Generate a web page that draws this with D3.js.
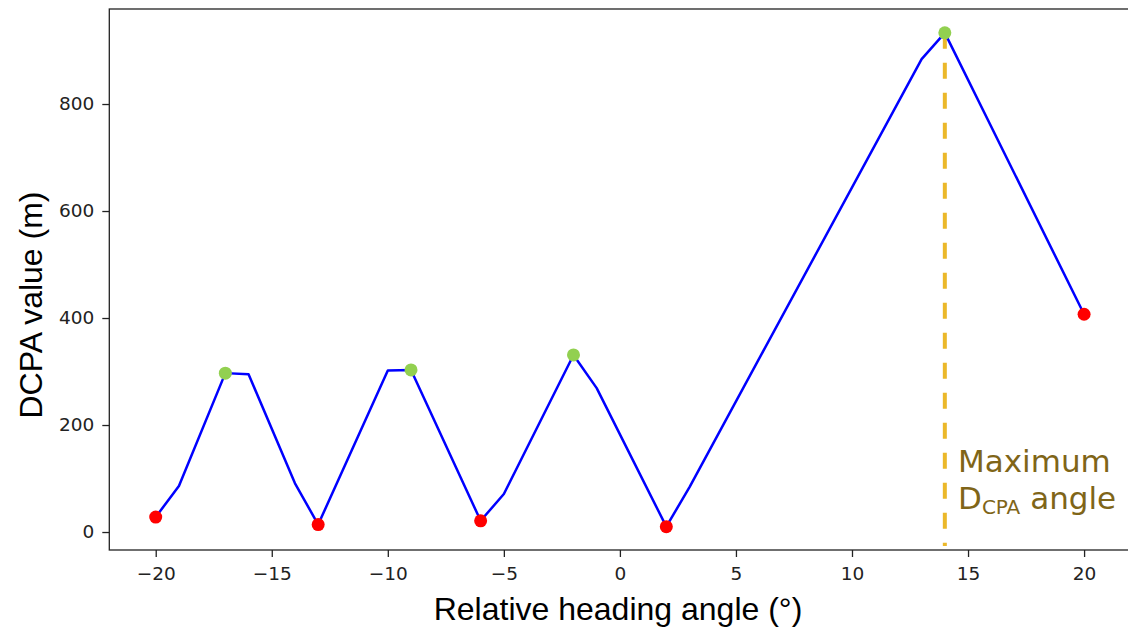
<!DOCTYPE html>
<html>
<head>
<meta charset="utf-8">
<script src="https://cdn.jsdelivr.net/npm/d3@7"></script>
<style>
  body { margin: 0; background: #fff; }
  svg text { font-family: "DejaVu Sans", sans-serif; }
  .tick text { font-size: 18.5px; fill: #222; }
  .tick line, .domain { stroke: #222; stroke-width: 1.3; }
</style>
</head>
<body>
<svg id="chart" width="1128" height="634"></svg>
<script>
// heading angle (deg) and DCPA (m)
var angles = [-20, -19, -17, -16, -14, -13, -10, -9, -6, -5, -2, -1, 2, 3, 13, 14, 20];
var dcpa   = [28, 86, 297, 295, 91, 14, 302, 303, 21, 71, 331, 269, 10, 84, 884, 933, 407];
// local minima / maxima marked with dots
var minAngles = [-20, -13, -6, 2, 20];
var maxAngles = [-17, -9, -2, 14];
var maxDcpaAngle = 14;
var xTicks = [-20, -15, -10, -5, 0, 5, 10, 15, 20];
var yTicks = [0, 200, 400, 600, 800];

var svg = d3.select("#chart");
var plotL = 109.3, plotR = 1130.5, plotT = 9, plotB = 550;

var x = d3.scaleLinear().domain([-22, 22]).range([plotL, plotR]);
var y = d3.scaleLinear().domain([-33.6, 977.6]).range([plotB, plotT]);

var data = angles.map(function (a, i) { return { a: a, v: dcpa[i] }; });
function valueAt(a) { return data.find(function (d) { return d.a === a; }).v; }

// frame
svg.append("rect")
    .attr("x", plotL).attr("y", plotT)
    .attr("width", plotR - plotL).attr("height", plotB - plotT)
    .attr("fill", "none").attr("stroke", "#222").attr("stroke-width", 1.3);

svg.append("g")
    .attr("transform", "translate(0," + plotB + ")")
    .call(d3.axisBottom(x).tickValues(xTicks).tickSize(7).tickPadding(10)
        .tickFormat(function (d) { return d < 0 ? "\u2212" + Math.abs(d) : d; }))
    .call(function (g) { g.select(".domain").remove(); });

svg.append("g")
    .attr("transform", "translate(" + plotL + ",0)")
    .call(d3.axisLeft(y).tickValues(yTicks).tickSize(7).tickPadding(8))
    .call(function (g) { g.select(".domain").remove(); });

// dashed marker for the max DCPA angle
svg.append("line")
    .attr("x1", x(maxDcpaAngle)).attr("x2", x(maxDcpaAngle))
    .attr("y1", y(valueAt(maxDcpaAngle))).attr("y2", plotB - 4)
    .attr("stroke", "#ebb82a").attr("stroke-width", 4)
    .attr("stroke-dasharray", "16,14");

var line = d3.line()
    .x(function (d) { return x(d.a); })
    .y(function (d) { return y(d.v); });

svg.append("path")
    .datum(data)
    .attr("d", line)
    .attr("fill", "none")
    .attr("stroke", "#0000ff")
    .attr("stroke-width", 2.5)
    .attr("stroke-linejoin", "round");

svg.selectAll(".mindot")
    .data(minAngles)
    .enter().append("circle")
    .attr("class", "mindot")
    .attr("cx", function (a) { return x(a); })
    .attr("cy", function (a) { return y(valueAt(a)); })
    .attr("r", 6.5)
    .attr("fill", "#ff0000");

svg.selectAll(".maxdot")
    .data(maxAngles)
    .enter().append("circle")
    .attr("class", "maxdot")
    .attr("cx", function (a) { return x(a); })
    .attr("cy", function (a) { return y(valueAt(a)); })
    .attr("r", 6.5)
    .attr("fill", "#92d050");

// annotation
var note = svg.append("g").attr("fill", "#7f6518")
    .style("font-family", "Lato, 'Noto Sans', sans-serif").style("font-size", "31px");
note.append("text").attr("x", 958).attr("y", 472).text("Maximum");
var t2 = note.append("text").attr("x", 958).attr("y", 509);
t2.append("tspan").text("D");
t2.append("tspan").attr("dy", 5).style("font-size", "20px").text("CPA");
t2.append("tspan").attr("dy", -5).text(" angle");

// axis titles
svg.append("text")
    .attr("x", 618).attr("y", 620)
    .attr("text-anchor", "middle")
    .style("font-family", "'Liberation Sans', Arial, sans-serif")
    .style("font-size", "32px")
    .text("Relative heading angle (\u00b0)");

svg.append("text")
    .attr("transform", "translate(42,305) rotate(-90)")
    .attr("text-anchor", "middle")
    .style("font-family", "'Liberation Sans', Arial, sans-serif")
    .style("font-size", "32px")
    .text("DCPA value (m)");
</script>
</body>
</html>
